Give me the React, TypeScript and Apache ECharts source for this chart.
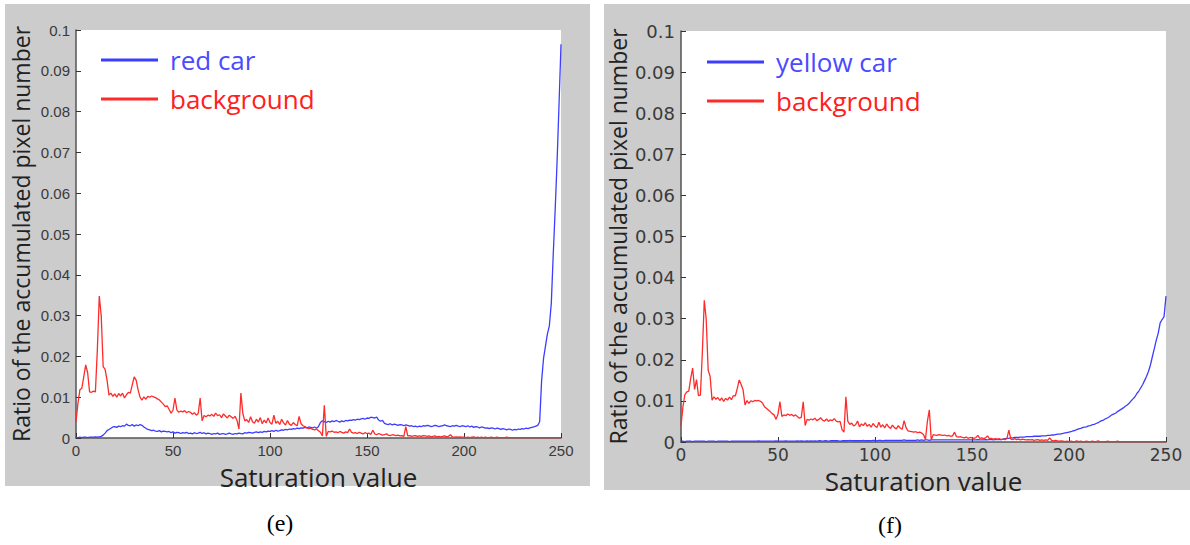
import React, { useEffect, useRef } from "react";
import * as echarts from "echarts";

// Saturation axis (0..250)
const saturation: number[] = Array.from({ length: 251 }, (_, i) => i);

// (e) red car vs background
const redCar: number[] = [
  0.0001, 0.0001, 0.0002, 0.0001, 0.0002, 0.0002, 0.0001, 0.0002, 0.0002, 0.0002,
  0.0003, 0.0002, 0.0003, 0.0004, 0.0007, 0.0012, 0.0018, 0.0021, 0.0024, 0.0027,
  0.0028, 0.0026, 0.0029, 0.0028, 0.0030, 0.0029, 0.0034, 0.0031, 0.0030, 0.0033,
  0.0029, 0.0032, 0.0030, 0.0033, 0.0031, 0.0027, 0.0024, 0.0021, 0.0020, 0.0018,
  0.0019, 0.0017, 0.0016, 0.0018, 0.0015, 0.0017, 0.0016, 0.0015, 0.0016, 0.0013,
  0.0015, 0.0012, 0.0014, 0.0013, 0.0011, 0.0013, 0.0012, 0.0014, 0.0011, 0.0012,
  0.0010, 0.0013, 0.0011, 0.0012, 0.0014, 0.0011, 0.0013, 0.0010, 0.0012, 0.0011,
  0.0009, 0.0011, 0.0010, 0.0012, 0.0009, 0.0010, 0.0011, 0.0009, 0.0010, 0.0012,
  0.0010, 0.0009, 0.0011, 0.0010, 0.0012, 0.0011, 0.0010, 0.0013, 0.0012, 0.0014,
  0.0013, 0.0012, 0.0014, 0.0015, 0.0013, 0.0015, 0.0014, 0.0016, 0.0015, 0.0017,
  0.0016, 0.0018, 0.0016, 0.0019, 0.0017, 0.0018, 0.0020, 0.0019, 0.0021, 0.0020,
  0.0022, 0.0021, 0.0023, 0.0022, 0.0024, 0.0023, 0.0025, 0.0024, 0.0026, 0.0025,
  0.0027, 0.0026, 0.0025, 0.0027, 0.0024, 0.0028, 0.0038, 0.0042, 0.0040, 0.0038,
  0.0041, 0.0039, 0.0042, 0.0040, 0.0043, 0.0041, 0.0039, 0.0042, 0.0040, 0.0043,
  0.0042, 0.0044, 0.0043, 0.0045, 0.0044, 0.0046, 0.0045, 0.0047, 0.0048, 0.0046,
  0.0049, 0.0048, 0.0051, 0.0050, 0.0049, 0.0051, 0.0044, 0.0041, 0.0043, 0.0036,
  0.0034, 0.0033, 0.0035, 0.0032, 0.0034, 0.0033, 0.0031, 0.0033, 0.0032, 0.0030,
  0.0032, 0.0031, 0.0029, 0.0030, 0.0028, 0.0029, 0.0027, 0.0029, 0.0028, 0.0030,
  0.0029, 0.0031, 0.0030, 0.0028, 0.0029, 0.0031, 0.0030, 0.0028, 0.0029, 0.0030,
  0.0032, 0.0030, 0.0029, 0.0028, 0.0030, 0.0029, 0.0031, 0.0029, 0.0028, 0.0030,
  0.0029, 0.0028, 0.0030, 0.0027, 0.0029, 0.0026, 0.0028, 0.0027, 0.0025, 0.0027,
  0.0026, 0.0024, 0.0025, 0.0023, 0.0025, 0.0024, 0.0022, 0.0024, 0.0023, 0.0021,
  0.0023, 0.0022, 0.0020, 0.0022, 0.0021, 0.0019, 0.0021, 0.0020, 0.0022, 0.0021,
  0.0023, 0.0022, 0.0024, 0.0023, 0.0025, 0.0026, 0.0027, 0.0029, 0.0031, 0.0040,
  0.0140, 0.0195, 0.0225, 0.0255, 0.0275, 0.0330, 0.0450, 0.0560, 0.0680, 0.0820,
  0.0965,
];

const redCarBackground: number[] = [
  0.0040, 0.0085, 0.0118, 0.0122, 0.0150, 0.0179, 0.0160, 0.0113, 0.0112, 0.0115,
  0.0113, 0.0216, 0.0348, 0.0300, 0.0175, 0.0168, 0.0142, 0.0105, 0.0110, 0.0102,
  0.0108, 0.0100, 0.0109, 0.0103, 0.0110, 0.0098, 0.0106, 0.0112, 0.0110, 0.0130,
  0.0150, 0.0142, 0.0118, 0.0100, 0.0093, 0.0101, 0.0095, 0.0102, 0.0100, 0.0103,
  0.0101, 0.0099, 0.0096, 0.0093, 0.0088, 0.0083, 0.0077, 0.0079, 0.0070, 0.0061,
  0.0068, 0.0098, 0.0069, 0.0063, 0.0066, 0.0064, 0.0067, 0.0062, 0.0065, 0.0063,
  0.0058, 0.0062, 0.0056, 0.0060, 0.0098, 0.0042, 0.0055, 0.0052, 0.0056, 0.0054,
  0.0058, 0.0053, 0.0061, 0.0055, 0.0057, 0.0050, 0.0059, 0.0054, 0.0049, 0.0056,
  0.0052, 0.0048, 0.0053, 0.0043, 0.0022, 0.0110, 0.0060, 0.0042, 0.0045, 0.0038,
  0.0052, 0.0040, 0.0036, 0.0046, 0.0039, 0.0050, 0.0035, 0.0044, 0.0037, 0.0049,
  0.0038, 0.0034, 0.0056, 0.0036, 0.0041, 0.0033, 0.0046, 0.0037, 0.0032, 0.0043,
  0.0034, 0.0031, 0.0038, 0.0033, 0.0030, 0.0053, 0.0035, 0.0030, 0.0028, 0.0025,
  0.0023, 0.0024, 0.0021, 0.0020, 0.0022, 0.0018, 0.0014, 0.0005, 0.0080, 0.0004,
  0.0016, 0.0015, 0.0017, 0.0014, 0.0015, 0.0013, 0.0016, 0.0014, 0.0012, 0.0015,
  0.0013, 0.0022, 0.0014, 0.0012, 0.0013, 0.0011, 0.0014, 0.0012, 0.0010, 0.0013,
  0.0011, 0.0012, 0.0009, 0.0019, 0.0010, 0.0008, 0.0011, 0.0009, 0.0007, 0.0008,
  0.0010, 0.0007, 0.0006, 0.0008, 0.0007, 0.0006, 0.0007, 0.0005, 0.0006, 0.0004,
  0.0028, 0.0005, 0.0006, 0.0004, 0.0005, 0.0006, 0.0004, 0.0005, 0.0004, 0.0006,
  0.0005, 0.0004, 0.0005, 0.0003, 0.0004, 0.0005, 0.0003, 0.0004, 0.0003, 0.0004,
  0.0005, 0.0003, 0.0004, 0.0008, 0.0003, 0.0002, 0.0003, 0.0002, 0.0003, 0.0002,
  0.0002, 0.0001, 0.0002, 0.0001, 0.0002, 0.0003, 0.0001, 0.0002, 0.0001, 0.0002,
  0.0001, 0.0002, 0.0001, 0.0001, 0.0002, 0.0001, 0.0001, 0.0002, 0.0001, 0.0001,
  0.0001, 0.0001, 0.0002, 0.0001, 0.0001, 0.0001, 0.0001, 0.0001, 0.0001, 0.0001,
  0.0001, 0.0001, 0.0001, 0.0001, 0.0001, 0.0001, 0.0001, 0.0001, 0.0001, 0.0001,
  0.0001, 0.0001, 0.0001, 0.0001, 0.0001, 0.0001, 0.0001, 0.0001, 0.0001, 0.0001,
  0.0001,
];

// (f) yellow car vs background
const yellowCar: number[] = [
  0.0002, 0.0002, 0.0001, 0.0002, 0.0002, 0.0002, 0.0001, 0.0002, 0.0002, 0.0002,
  0.0002, 0.0002, 0.0002, 0.0001, 0.0002, 0.0002, 0.0002, 0.0002, 0.0001, 0.0002,
  0.0002, 0.0002, 0.0002, 0.0002, 0.0002, 0.0001, 0.0002, 0.0002, 0.0002, 0.0002,
  0.0002, 0.0002, 0.0002, 0.0002, 0.0002, 0.0002, 0.0002, 0.0002, 0.0002, 0.0002,
  0.0003, 0.0002, 0.0002, 0.0002, 0.0002, 0.0002, 0.0002, 0.0002, 0.0002, 0.0003,
  0.0002, 0.0002, 0.0002, 0.0002, 0.0003, 0.0002, 0.0002, 0.0002, 0.0002, 0.0002,
  0.0003, 0.0002, 0.0003, 0.0002, 0.0002, 0.0003, 0.0002, 0.0003, 0.0002, 0.0003,
  0.0002, 0.0003, 0.0003, 0.0002, 0.0003, 0.0003, 0.0002, 0.0003, 0.0003, 0.0003,
  0.0003, 0.0003, 0.0002, 0.0003, 0.0003, 0.0003, 0.0003, 0.0004, 0.0003, 0.0003,
  0.0003, 0.0003, 0.0003, 0.0003, 0.0004, 0.0003, 0.0003, 0.0003, 0.0003, 0.0004,
  0.0004, 0.0003, 0.0004, 0.0004, 0.0003, 0.0004, 0.0004, 0.0004, 0.0004, 0.0004,
  0.0004, 0.0004, 0.0004, 0.0004, 0.0004, 0.0005, 0.0004, 0.0004, 0.0004, 0.0004,
  0.0004, 0.0004, 0.0005, 0.0004, 0.0005, 0.0004, 0.0005, 0.0005, 0.0004, 0.0005,
  0.0005, 0.0005, 0.0005, 0.0005, 0.0005, 0.0005, 0.0005, 0.0005, 0.0005, 0.0005,
  0.0005, 0.0005, 0.0005, 0.0005, 0.0005, 0.0005, 0.0005, 0.0005, 0.0005, 0.0005,
  0.0005, 0.0005, 0.0005, 0.0006, 0.0005, 0.0005, 0.0005, 0.0006, 0.0005, 0.0006,
  0.0006, 0.0005, 0.0006, 0.0006, 0.0006, 0.0006, 0.0007, 0.0008, 0.0009, 0.0009,
  0.0010, 0.0010, 0.0011, 0.0011, 0.0011, 0.0012, 0.0012, 0.0012, 0.0013, 0.0013,
  0.0013, 0.0013, 0.0014, 0.0014, 0.0014, 0.0014, 0.0015, 0.0015, 0.0015, 0.0016,
  0.0016, 0.0017, 0.0017, 0.0018, 0.0019, 0.0019, 0.0020, 0.0021, 0.0022, 0.0023,
  0.0024, 0.0025, 0.0027, 0.0028, 0.0030, 0.0032, 0.0033, 0.0035, 0.0036, 0.0037,
  0.0039, 0.0040, 0.0042, 0.0043, 0.0045, 0.0047, 0.0050, 0.0052, 0.0054, 0.0057,
  0.0059, 0.0062, 0.0066, 0.0068, 0.0070, 0.0074, 0.0077, 0.0080, 0.0083, 0.0087,
  0.0090, 0.0094, 0.0100, 0.0105, 0.0110, 0.0118, 0.0124, 0.0132, 0.0140, 0.0150,
  0.0160, 0.0172, 0.0188, 0.0208, 0.0228, 0.0248, 0.0265, 0.0290, 0.0298, 0.0305,
  0.0355,
];

const yellowCarBackground: number[] = [
  0.0039, 0.0086, 0.0115, 0.0122, 0.0124, 0.0155, 0.0180, 0.0128, 0.0152, 0.0113,
  0.0114, 0.0217, 0.0345, 0.0298, 0.0175, 0.0160, 0.0102, 0.0110, 0.0104, 0.0108,
  0.0101, 0.0107, 0.0099, 0.0106, 0.0102, 0.0109, 0.0103, 0.0113, 0.0112, 0.0130,
  0.0151, 0.0140, 0.0127, 0.0090, 0.0101, 0.0094, 0.0100, 0.0098, 0.0101, 0.0100,
  0.0101, 0.0099, 0.0095, 0.0086, 0.0082, 0.0078, 0.0074, 0.0069, 0.0066, 0.0055,
  0.0068, 0.0098, 0.0062, 0.0066, 0.0064, 0.0068, 0.0065, 0.0067, 0.0063, 0.0066,
  0.0062, 0.0058, 0.0060, 0.0098, 0.0040, 0.0055, 0.0053, 0.0056, 0.0054, 0.0058,
  0.0052, 0.0055, 0.0059, 0.0053, 0.0051, 0.0056, 0.0050, 0.0054, 0.0052, 0.0057,
  0.0051, 0.0049, 0.0050, 0.0030, 0.0024, 0.0110, 0.0050, 0.0043, 0.0046, 0.0039,
  0.0042, 0.0051, 0.0037, 0.0044, 0.0040, 0.0047, 0.0038, 0.0043, 0.0036, 0.0045,
  0.0039, 0.0035, 0.0048, 0.0036, 0.0042, 0.0034, 0.0044, 0.0037, 0.0033, 0.0041,
  0.0035, 0.0032, 0.0040, 0.0034, 0.0031, 0.0052, 0.0035, 0.0027, 0.0026, 0.0025,
  0.0024, 0.0025, 0.0023, 0.0024, 0.0022, 0.0018, 0.0006, 0.0050, 0.0078, 0.0005,
  0.0018, 0.0017, 0.0016, 0.0018, 0.0017, 0.0016, 0.0017, 0.0015, 0.0016, 0.0014,
  0.0015, 0.0024, 0.0013, 0.0012, 0.0013, 0.0011, 0.0010, 0.0012, 0.0009, 0.0011,
  0.0010, 0.0009, 0.0011, 0.0016, 0.0009, 0.0010, 0.0008, 0.0010, 0.0015, 0.0008,
  0.0009, 0.0007, 0.0008, 0.0007, 0.0008, 0.0006, 0.0007, 0.0006, 0.0008, 0.0029,
  0.0007, 0.0006, 0.0008, 0.0006, 0.0007, 0.0005, 0.0007, 0.0006, 0.0005, 0.0006,
  0.0005, 0.0006, 0.0004, 0.0005, 0.0006, 0.0004, 0.0005, 0.0004, 0.0005, 0.0004,
  0.0010, 0.0004, 0.0003, 0.0004, 0.0003, 0.0002, 0.0003, 0.0002, 0.0001, 0.0002,
  0.0001, 0.0002, 0.0001, 0.0001, 0.0003, 0.0001, 0.0002, 0.0001, 0.0001, 0.0002,
  0.0001, 0.0001, 0.0002, 0.0001, 0.0001, 0.0003, 0.0001, 0.0001, 0.0001, 0.0001,
  0.0002, 0.0001, 0.0001, 0.0001, 0.0001, 0.0002, 0.0001, 0.0001, 0.0001, 0.0001,
  0.0001, 0.0001, 0.0001, 0.0001, 0.0001, 0.0001, 0.0001, 0.0001, 0.0001, 0.0001,
  0.0001, 0.0001, 0.0001, 0.0001, 0.0001, 0.0001, 0.0001, 0.0001, 0.0001, 0.0001,
  0.0001,
];

const yTitle = "Ratio of the accumulated pixel number";
const xTitle = "Saturation value";

const BLUE = "#3d3dff";
const RED = "#ff2b2b";

function pairs(ys: number[]): number[][] {
  return saturation.map((s, i) => [s, ys[i]]);
}

export default function App() {
  const ref = useRef<HTMLDivElement>(null);

  useEffect(() => {
    document.body.style.margin = "0";
    const chart = echarts.init(ref.current!, undefined, { renderer: "svg" });

    const xAxisBase = (fontFamily: string, fontSize: number, gridIndex: number, nameGap: number, margin: number) => ({
      type: "value",
      gridIndex,
      min: 0,
      max: 250,
      interval: 50,
      name: xTitle,
      nameLocation: "middle",
      nameGap,
      nameMoveOverlap: false,
      nameTextStyle: { fontFamily: "Open Sans", fontSize: 26, lineHeight: 24, color: "#222" },
      axisLine: { show: true, lineStyle: { color: "#555", width: 1.5 } },
      axisTick: { show: true, inside: true, length: 5, lineStyle: { color: "#333" } },
      axisLabel: { fontFamily, fontSize, lineHeight: fontSize, color: "#3a3a3a", margin },
      splitLine: { show: false },
    });
    const yAxisBase = (fontFamily: string, fontSize: number, gridIndex: number, nameGap: number) => ({
      type: "value",
      gridIndex,
      min: 0,
      max: 0.1,
      interval: 0.01,
      name: yTitle,
      nameLocation: "middle",
      nameGap,
      nameMoveOverlap: false,
      nameTextStyle: { fontFamily: "Open Sans", fontSize: 23, color: "#222" },
      axisLine: { show: true, lineStyle: { color: "#555", width: 1.5 } },
      axisTick: { show: true, inside: true, length: 5, lineStyle: { color: "#333" } },
      axisLabel: { fontFamily, fontSize, color: "#3a3a3a", margin: 6 },
      splitLine: { show: false },
    });

    const legendBase = (left: number, top: number, carName: string) => ({
      orient: "vertical",
      left,
      top,
      padding: 0,
      icon: "rect",
      itemWidth: 57,
      itemHeight: 3,
      itemGap: 9,
      selectedMode: false,
      textStyle: { fontFamily: "Open Sans", fontSize: 26, lineHeight: 30, padding: [0, 0, 0, 7] },
      data: [
        { name: carName, textStyle: { color: "#4a4aff" } },
        { name: "background", textStyle: { color: "#ff2020" } },
      ],
    });

    const lineSeries = (name: string, color: string, ys: number[], idx: number) => ({
      type: "line",
      name,
      xAxisIndex: idx,
      yAxisIndex: idx,
      data: pairs(ys),
      symbol: "none",
      lineStyle: { color, width: 1.3 },
      itemStyle: { color },
    });

    chart.setOption({
      animation: false,
      backgroundColor: "#ffffff",
      graphic: [
        { type: "rect", z: -10, shape: { x: 5, y: 4, width: 585, height: 482 }, style: { fill: "#cccccc" } },
        { type: "rect", z: -10, shape: { x: 604, y: 4, width: 586, height: 486 }, style: { fill: "#cccccc" } },
        {
          type: "text",
          x: 280,
          y: 523,
          style: { text: "(e)", font: "24px 'Liberation Serif'", fill: "#000", textAlign: "center", textVerticalAlign: "middle" },
        },
        {
          type: "text",
          x: 890,
          y: 525,
          style: { text: "(f)", font: "24px 'Liberation Serif'", fill: "#000", textAlign: "center", textVerticalAlign: "middle" },
        },
      ],
      grid: [
        { left: 76, top: 30, width: 485, height: 408, show: true, backgroundColor: "#ffffff", borderWidth: 0 },
        { left: 681, top: 31, width: 485, height: 411, show: true, backgroundColor: "#ffffff", borderWidth: 0 },
      ],
      xAxis: [xAxisBase("Liberation Sans", 15, 0, 27, 5), xAxisBase("DejaVu Sans", 17, 1, 27, 4)],
      yAxis: [yAxisBase("Liberation Sans", 15, 0, 44), yAxisBase("DejaVu Sans", 18, 1, 52)],
      legend: [legendBase(101, 45, "red car"), legendBase(707, 47, "yellow car")],
      series: [
        lineSeries("red car", BLUE, redCar, 0),
        lineSeries("background", RED, redCarBackground, 0),
        lineSeries("yellow car", BLUE, yellowCar, 1),
        lineSeries("background", RED, yellowCarBackground, 1),
      ],
    });

    return () => chart.dispose();
  }, []);

  return <div ref={ref} style={{ width: 1190, height: 545 }} />;
}
